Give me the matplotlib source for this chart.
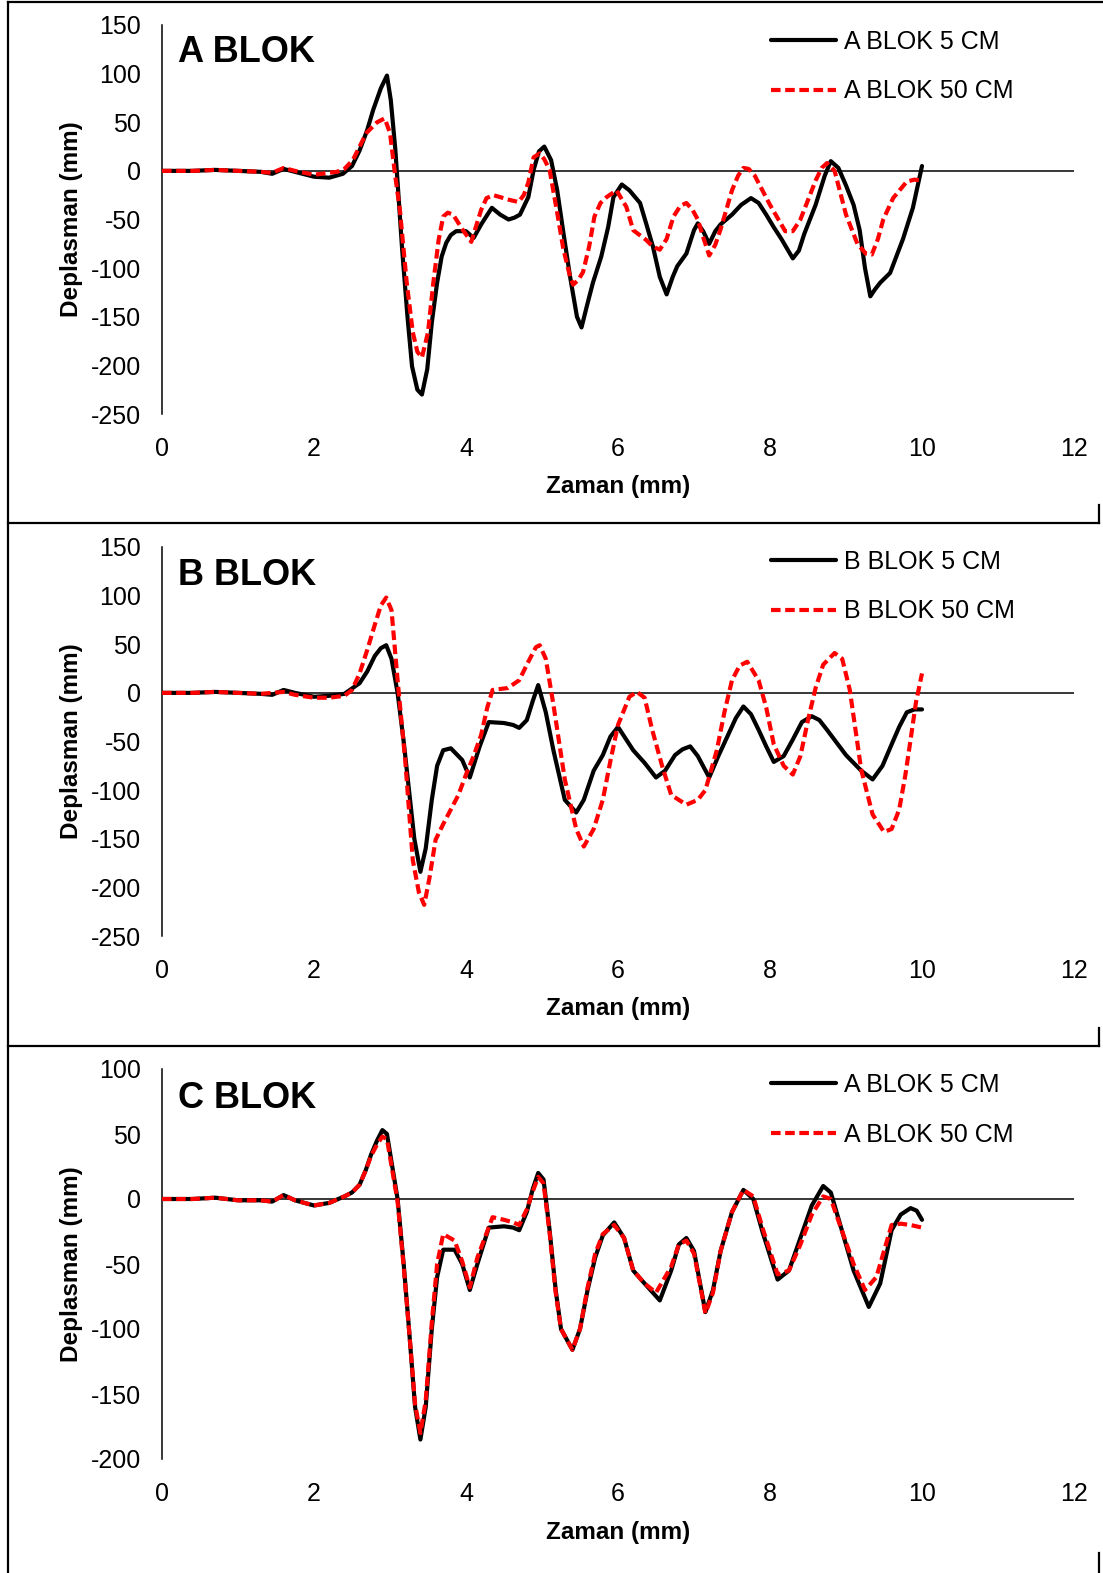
import matplotlib
matplotlib.use("Agg")
import matplotlib.pyplot as plt
from matplotlib.lines import Line2D

plt.rcParams['font.family'] = ['Liberation Sans', 'DejaVu Sans']
plt.rcParams['axes.unicode_minus'] = False

# ---------------- data ----------------
# A BLOK
a5_t = [0, 0.4, 0.7, 1.0, 1.3, 1.45, 1.6, 1.75, 2.0, 2.2, 2.38, 2.5, 2.6, 2.7, 2.78, 2.88, 2.96,
        3.01, 3.07, 3.1, 3.16, 3.23, 3.29, 3.36, 3.42, 3.49, 3.55, 3.62, 3.68, 3.74, 3.8, 3.87, 4.0,
        4.1, 4.2, 4.34, 4.45, 4.56, 4.64, 4.71, 4.82, 4.89, 4.96, 5.03, 5.12, 5.2, 5.29, 5.37, 5.46,
        5.52, 5.6, 5.67, 5.78, 5.87, 5.94, 6.05, 6.15, 6.29, 6.37, 6.46, 6.55, 6.64, 6.72, 6.78, 6.9,
        7.0, 7.05, 7.12, 7.2, 7.28, 7.35, 7.5, 7.62, 7.75, 7.85, 7.95, 8.05, 8.15, 8.3, 8.38, 8.45,
        8.6, 8.72, 8.8, 8.9, 9.0, 9.1, 9.18, 9.25, 9.32, 9.38, 9.45, 9.58, 9.75, 9.88, 10.0]
a5_v = [0, 0, 1, 0, -1, -3, 2, -1, -6, -7, -3, 5, 21, 42, 63, 85, 98,
        73, 22, -12, -81, -150, -201, -225, -230, -204, -156, -115, -88, -74, -66, -62, -62,
        -69, -55, -38, -45, -50, -48, -45, -27, 1, 20, 25, 11, -20, -68, -109, -150,
        -161, -136, -115, -88, -58, -27, -14, -20, -33, -54, -78, -109, -127, -109, -98, -85,
        -61, -54, -62, -75, -62, -55, -45, -35, -28, -33, -45, -58, -70, -90, -82, -65,
        -35, -5, 10, 3, -15, -35, -61, -100, -129, -122, -115, -105, -70, -38, 5]

a50_t = [0, 0.4, 0.7, 1.0, 1.3, 1.45, 1.6, 1.75, 2.0, 2.3, 2.4, 2.51, 2.6, 2.69, 2.83, 2.93, 3.0,
         3.07, 3.13, 3.22, 3.3, 3.36, 3.42, 3.5, 3.57, 3.64, 3.7, 3.76, 3.83, 3.96, 4.07, 4.14, 4.2,
         4.27, 4.36, 4.45, 4.58, 4.69, 4.76, 4.82, 4.89, 4.97, 5.03, 5.1, 5.2, 5.28, 5.37, 5.41,
         5.48, 5.54, 5.62, 5.69, 5.77, 5.85, 5.98, 6.11, 6.2, 6.37, 6.46, 6.55, 6.64, 6.73, 6.82,
         6.9, 6.98, 7.05, 7.12, 7.2, 7.28, 7.35, 7.5, 7.58, 7.65, 7.72, 7.8, 8.0, 8.2, 8.3, 8.4,
         8.6, 8.68, 8.75, 8.85, 9.0, 9.15, 9.26, 9.34, 9.42, 9.49, 9.62, 9.8, 9.9, 10.0]
a50_v = [0, 0, 1, 0, -1, -2, 3, 0, -4, -1, 2, 11, 25, 39, 50, 54, 39,
         -6, -40, -115, -166, -186, -192, -166, -115, -71, -47, -43, -45, -61, -73, -55, -40,
         -28, -25, -27, -30, -32, -25, -12, 14, 18, 12, 1, -43, -80, -109, -117,
         -112, -104, -78, -47, -33, -27, -20, -37, -61, -71, -78, -81, -70, -47, -36,
         -33, -40, -50, -68, -87, -76, -60, -20, -5, 3, 2, -5, -35, -62, -62, -50,
         -10, 3, 8, 0, -45, -75, -85, -86, -70, -50, -28, -11, -9, -10]

# B BLOK
b5_t = [0, 0.4, 0.7, 1.0, 1.3, 1.45, 1.6, 1.75, 2.0, 2.2, 2.4, 2.6, 2.7, 2.8, 2.88, 2.95, 3.02,
        3.1, 3.18, 3.25, 3.32, 3.4, 3.47, 3.55, 3.62, 3.7, 3.8, 3.95, 4.05, 4.18, 4.3, 4.5, 4.62,
        4.7, 4.8, 4.88, 4.95, 5.05, 5.15, 5.3, 5.45, 5.55, 5.68, 5.8, 5.9, 6.0, 6.2, 6.35, 6.5,
        6.62, 6.75, 6.85, 6.95, 7.05, 7.2, 7.32, 7.45, 7.55, 7.65, 7.75, 7.85, 7.95, 8.05, 8.18,
        8.3, 8.42, 8.55, 8.65, 8.75, 9.0, 9.2, 9.35, 9.48, 9.6, 9.7, 9.8, 9.9, 10.0]
b5_v = [0, 0, 1, 0, -1, -2, 3, 0, -4, -3, -1, 10, 22, 38, 46, 49, 35,
        0, -50, -100, -150, -184, -160, -110, -75, -59, -57, -69, -87, -55, -30, -31, -33,
        -36, -28, -8, 8, -20, -59, -110, -123, -110, -80, -64, -45, -35, -59, -72, -87,
        -80, -64, -58, -55, -65, -87, -65, -43, -26, -14, -22, -38, -55, -71, -65,
        -48, -30, -24, -28, -38, -64, -80, -89, -75, -53, -35, -20, -17, -17]

b50_t = [0, 0.4, 0.7, 1.0, 1.3, 1.6, 1.75, 2.0, 2.2, 2.4, 2.5, 2.6, 2.7, 2.8, 2.88, 2.95, 3.02,
         3.1, 3.2, 3.3, 3.38, 3.45, 3.52, 3.6, 3.7, 3.8, 3.9, 4.0, 4.1, 4.2, 4.28, 4.35, 4.45,
         4.55, 4.7, 4.82, 4.92, 4.97, 5.05, 5.15, 5.3, 5.45, 5.55, 5.68, 5.8, 5.9, 6.0, 6.15, 6.25,
         6.35, 6.45, 6.58, 6.7, 6.9, 7.05, 7.15, 7.3, 7.4, 7.5, 7.6, 7.7, 7.85, 7.95, 8.05, 8.18,
         8.3, 8.4, 8.5, 8.6, 8.7, 8.85, 8.95, 9.05, 9.2, 9.35, 9.5, 9.6, 9.7, 9.78, 9.85, 9.92,
         10.0]
b50_v = [0, 0, 1, 0, -1, 1, -2, -5, -5, -3, 3, 20, 44, 70, 90, 98, 85,
         13, -69, -172, -205, -218, -190, -151, -135, -120, -105, -84, -65, -43, -15, 3, 4,
         5, 13, 32, 47, 49, 35, -12, -89, -140, -158, -140, -110, -70, -33, -4, 1,
         -5, -38, -75, -105, -115, -110, -100, -59, -20, 13, 28, 32, 13, -15, -53, -75,
         -84, -65, -28, 5, 29, 41, 35, 3, -79, -125, -143, -140, -120, -85, -48, -10,
         20]

# C BLOK
c5_t = [0, 0.4, 0.7, 1.0, 1.3, 1.45, 1.6, 1.75, 2.0, 2.2, 2.4, 2.5, 2.6, 2.68, 2.75, 2.83, 2.9,
        2.96, 3.03, 3.1, 3.18, 3.25, 3.33, 3.4, 3.47, 3.55, 3.62, 3.7, 3.85, 3.95, 4.05, 4.15, 4.3,
        4.5, 4.62, 4.7, 4.8, 4.88, 4.95, 5.02, 5.1, 5.18, 5.25, 5.4, 5.5, 5.6, 5.7, 5.8, 5.95,
        6.08, 6.2, 6.35, 6.55, 6.7, 6.8, 6.9, 7.0, 7.08, 7.15, 7.25, 7.35, 7.5, 7.65, 7.78, 7.9,
        8.1, 8.25, 8.4, 8.55, 8.7, 8.8, 8.95, 9.1, 9.3, 9.45, 9.6, 9.72, 9.85, 9.93, 10.0]
c5_v = [0, 0, 1, -1, -1, -2, 3, -1, -5, -3, 2, 5, 11, 22, 34, 45, 53,
        50, 25, 0, -50, -100, -160, -185, -160, -100, -60, -39, -39, -50, -70, -50, -22,
        -21, -22, -24, -10, 8, 20, 15, -24, -70, -100, -116, -100, -70, -45, -28, -18,
        -30, -55, -65, -78, -55, -35, -30, -40, -65, -87, -70, -40, -10, 7, 0, -25,
        -62, -55, -30, -5, 10, 5, -25, -55, -83, -65, -24, -12, -7, -9, -16]

c50_t = [0, 0.4, 0.7, 1.0, 1.3, 1.45, 1.6, 1.75, 2.0, 2.2, 2.4, 2.5, 2.6, 2.68, 2.75, 2.83, 2.9,
         2.96, 3.03, 3.1, 3.18, 3.25, 3.33, 3.4, 3.47, 3.55, 3.62, 3.7, 3.85, 3.95, 4.05, 4.15,
         4.35, 4.5, 4.62, 4.7, 4.8, 4.88, 4.95, 5.02, 5.1, 5.18, 5.25, 5.4, 5.5, 5.6, 5.7, 5.8,
         5.95, 6.08, 6.2, 6.35, 6.5, 6.7, 6.8, 6.9, 7.0, 7.08, 7.15, 7.25, 7.35, 7.5, 7.65, 7.78,
         7.9, 8.1, 8.25, 8.4, 8.55, 8.7, 8.8, 8.95, 9.1, 9.25, 9.4, 9.6, 9.72, 9.85, 10.0]
c50_v = [0, 0, 1, -1, -1, -2, 3, -1, -5, -3, 2, 5, 11, 22, 33, 42, 48,
         46, 22, -2, -52, -100, -158, -180, -155, -95, -50, -27, -32, -48, -68, -45,
         -14, -16, -18, -20, -8, 6, 17, 12, -26, -72, -100, -116, -100, -68, -42, -27,
         -20, -30, -55, -65, -72, -52, -35, -32, -42, -66, -88, -72, -40, -10, 7, 2,
         -22, -58, -55, -35, -12, 2, 0, -25, -50, -70, -60, -20, -19, -20, -22]

titles = ["A BLOK", "B BLOK", "C BLOK"]
labels = [("A BLOK 5 CM", "A BLOK 50 CM"),
          ("B BLOK 5 CM", "B BLOK 50 CM"),
          ("A BLOK 5 CM", "A BLOK 50 CM")]
series = [((a5_t, a5_v), (a50_t, a50_v)),
          ((b5_t, b5_v), (b50_t, b50_v)),
          ((c5_t, c5_v), (c50_t, c50_v))]
y_ranges = [(-250, 150), (-250, 150), (-200, 100)]
x_ticks = [0, 2, 4, 6, 8, 10, 12]

# ---------------- layout (pixels) ----------------
W, H = 1103, 1573
fig = plt.figure(figsize=(W / 100, H / 100), dpi=100)

def fx(px):
    return px / W

def fy(py):
    return 1 - py / H

panel_top = [2, 523, 1046]
axes_px = [(25, 414), (547, 936), (1069, 1459)]
ax_left, ax_right = 162, 1074

FS = 18
FS_LABEL = 17.5

for i in range(3):
    top, bot = axes_px[i]
    ax = fig.add_axes([fx(ax_left), fy(bot), fx(ax_right - ax_left), (bot - top) / H])
    (t5, v5), (t50, v50) = series[i]
    ax.plot(t5, v5, color='black', lw=3.0, solid_joinstyle='round', solid_capstyle='round',
            label=labels[i][0], zorder=3)
    ax.plot(t50, v50, color='#ff0000', lw=3.0, ls=(0, (2.3, 1.1)), label=labels[i][1], zorder=4)
    ax.axhline(0, color='black', lw=1.1, zorder=2)

    lo, hi = y_ranges[i]
    ax.set_xlim(0, 12)
    ax.set_ylim(lo, hi)
    ax.set_xticks(x_ticks)
    ax.set_yticks(list(range(lo, hi + 1, 50)))
    for s in ['top', 'right', 'bottom']:
        ax.spines[s].set_visible(False)
    ax.spines['left'].set_linewidth(1.1)
    ax.tick_params(axis='both', length=0, labelsize=FS)
    ax.tick_params(axis='y', pad=15)
    ax.tick_params(axis='x', pad=16.5)
    ax.set_xlabel("Zaman (mm)", fontsize=FS_LABEL, fontweight='bold', labelpad=10.5)
    ax.set_ylabel("Deplasman (mm)", fontsize=FS_LABEL, fontweight='bold', labelpad=6)
    ax.patch.set_visible(False)

    ptop = panel_top[i]
    fig.text(fx(178), fy(ptop + 50 if i == 0 else ptop + 52), titles[i], fontsize=26,
             fontweight='bold', va='center', ha='left')

    ax.legend(loc='upper left', bbox_to_anchor=(fx(771), fy(ptop + 28 if i == 0 else ptop + 27)),
              bbox_transform=fig.transFigure, frameon=False, fontsize=FS,
              handlelength=2.6, handletextpad=0.3, labelspacing=1.02,
              borderpad=0, borderaxespad=0)

# ---------------- frame lines ----------------
lw_frame = 1.6
fig.add_artist(Line2D([fx(8), fx(8)], [fy(2), fy(H)], color='black', lw=lw_frame))
fig.add_artist(Line2D([fx(8), fx(W)], [fy(2), fy(2)], color='black', lw=lw_frame))
for yb in [523, 1046]:
    fig.add_artist(Line2D([fx(8), fx(1099)], [fy(yb), fy(yb)], color='black', lw=lw_frame))
for y0, y1 in [(505, 523), (1028, 1046), (1553, H)]:
    fig.add_artist(Line2D([fx(1099), fx(1099)], [fy(y0), fy(y1)], color='black', lw=lw_frame))

fig.savefig("out.png", dpi=100)
